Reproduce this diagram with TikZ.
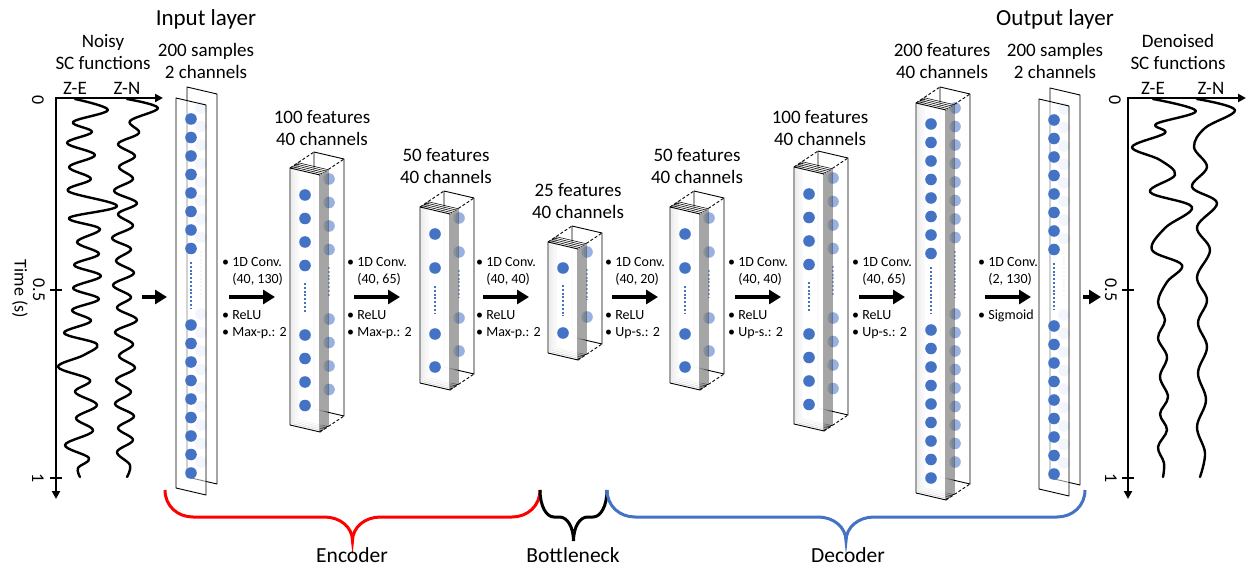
\documentclass[tikz,border=0pt]{standalone}
\usepackage{fontspec}
\setmainfont{Carlito}
\usetikzlibrary{arrows.meta}
\definecolor{dotblue}{HTML}{4472C4}
\definecolor{bracered}{HTML}{FF0000}

% dot positions (from the top of a sheet)
\newcommand{\tallcol}{21,39.5,58,76.5,95,113.5,132,150.5,227,245.5,264,282.5,301,319.5,338,356.5,375}
\newcommand{\midcol}{27,50.5,74,97.5,167,190.5,214,237.5}
\newcommand{\shortcol}{27,61,127,160}
\newcommand{\tinycol}{26,91}

% 2 channels: x, y, height, dots, gap from, gap to
\newcommand{\flatlayer}[6]{
  \begin{scope}[shift={(#1,#2)}]
    \draw[sheet] (11,-11) -- (41,-4) -- (41,#3-4) -- (11,#3-11) -- cycle;
    \foreach \yy in #4 \fill[dotblue!14] (25,\yy-11) circle (5.8pt);
    \draw[dotblue!14, line width=2pt, dash pattern=on 2pt off 1.8pt] (25,#5-11) -- (25,#6-11);
    \draw[sheet, fill opacity=0.5] (0,0) -- (30,7) -- (30,#3+7) -- (0,#3) -- cycle;
    \foreach \yy in #4 \fill[neuron] (15,\yy) circle (5.8pt);
    \draw[gap] (15,#5) -- (15,#6);
  \end{scope}}

% 40 channels: x, y, height, dots, gap from, gap to
\newcommand{\deeplayer}[6]{
  \begin{scope}[shift={(#1,#2)}]
    \draw[sheet] (24,-16) -- (54,-9) -- (54,#3-9) -- (24,#3-16) -- cycle;
    \foreach \yy in #4 \fill[neuron, fill opacity=0.55] (39,\yy-16) circle (5.8pt);
    \draw[gap, opacity=0.5] (39,#5-16) -- (39,#6-16);
    \draw[hidden] (0,0) -- (24,-16) (30,7) -- (54,-9) (30,#3+7) -- (54,#3-9);
    \foreach \kk in {4,3,2,1}
      \draw[sheet, line width=0.55pt, fill opacity=0.35, shift={(2*\kk,-1.33*\kk)}] (0,0) -- (30,7) -- (30,#3+7) -- (0,#3) -- cycle;
    \draw[sheet, fill opacity=0.8] (0,0) -- (30,7) -- (30,#3+7) -- (0,#3) -- cycle;
    \foreach \yy in #4 \fill[neuron] (15,\yy) circle (5.8pt);
    \draw[gap] (15,#5) -- (15,#6);
  \end{scope}}

% x1, x2, curve width, colour
\newcommand{\groupbrace}[4]{
  \pgfmathsetmacro{\xm}{(#1+#2)/2}
  \draw[brace, #4] (#1,490) .. controls (#1,506) and (#1+0.45*#3,517) .. (#1+#3,517)
    -- (\xm-#3,517) .. controls (\xm-0.45*#3,517) and (\xm,527) .. (\xm,541)
    .. controls (\xm,527) and (\xm+0.45*#3,517) .. (\xm+#3,517)
    -- (#2-#3,517) .. controls (#2-0.45*#3,517) and (#2,506) .. (#2,490);}

\tikzset{
  sheet/.style={draw=black, line width=0.9pt, fill=white, line join=round},
  neuron/.style={fill=dotblue},
  gap/.style={draw=dotblue, line width=2pt, dash pattern=on 2pt off 1.8pt},
  hidden/.style={draw=black, line width=0.9pt, dash pattern=on 3pt off 2pt},
  convarrow/.style={line width=3.5pt, -{Triangle[length=12pt,width=14pt]}},
  axis/.style={line width=2pt},
  signal/.style={line width=2.4pt, line join=round, line cap=round},
  brace/.style={line width=3pt},
  title/.style={font=\fontsize{23}{27}\selectfont, inner sep=0pt},
  layerlabel/.style={font=\fontsize{19}{22.5}\selectfont, align=center, inner sep=0pt},
  oplabel/.style={font=\fontsize{14}{17}\selectfont, anchor=base west, inner sep=0pt},
  ticklabel/.style={font=\fontsize{18}{20}\selectfont, rotate=-90, inner sep=0pt},
  bracelabel/.style={font=\fontsize{21.5}{25}\selectfont, inner sep=0pt},
}

\begin{document}
\begin{tikzpicture}[x=1pt, y=-1pt]
  \useasboundingbox (0,0) rectangle (1248,572);

  % noisy input
  \coordinate (lo) at (56,98);
  \coordinate (lx) at (163,98);
  \coordinate (ly) at (56,499);
  \draw[axis, {Triangle[length=8pt,width=8pt]}-{Triangle[length=8pt,width=8pt]}] (lx) -- (lo) -- (ly);
  \draw[axis] (50,290) -- (62,290) (50,478) -- (62,478);
  \node[ticklabel] (lt0) at (38,100) {0};
  \node[ticklabel] (lt1) at (39,290) {0.5};
  \node[ticklabel] (lt2) at (38,478) {1};
  \node[ticklabel] (time) at (20,289) {Time (s)};
  \node[layerlabel] (noisy) at (103,52) {Noisy\\SC functions};
  \node[layerlabel] (ze1) at (75,88) {Z-E};
  \node[layerlabel] (zn1) at (127,88) {Z-N};
  \draw[signal] plot[smooth, tension=0.6] coordinates {(75,99) (108,110) (73,122) (92,132) (67,143) (95,155) (69,167) (91,179) (68,191) (117,206) (69,218) (100,229) (77,242) (99,254) (74,265) (101,276) (73,288) (99,299) (72,310) (91,321) (64,333) (97,344) (84,355) (58,367) (90,380) (75,392) (97,405) (76,418) (93,431) (65,445) (89,458) (78,468) (80,477)};
  \draw[signal] plot[smooth, tension=0.6] coordinates {(127,99) (158,108) (130,121) (139,133) (118,144) (135,156) (119,167) (133,179) (114,191) (137,203) (118,214) (133,226) (112,238) (131,249) (116,261) (134,273) (113,285) (131,297) (117,308) (137,320) (115,332) (133,344) (119,356) (135,368) (116,380) (131,392) (115,404) (134,416) (118,428) (133,440) (117,452) (130,465) (127,477)};

  % denoised output
  \coordinate (ro) at (1128,98);
  \coordinate (rx) at (1246,98);
  \coordinate (ry) at (1128,499);
  \draw[axis, {Triangle[length=8pt,width=8pt]}-{Triangle[length=8pt,width=8pt]}] (rx) -- (ro) -- (ry);
  \draw[axis] (1122,290) -- (1134,290) (1122,478) -- (1134,478);
  \node[ticklabel] (rt0) at (1115,100) {0};
  \node[ticklabel] (rt1) at (1111,290) {0.5};
  \node[ticklabel] (rt2) at (1111,478) {1};
  \node[layerlabel] (denoised) at (1178,52) {Denoised\\SC functions};
  \node[layerlabel] (ze2) at (1153,88) {Z-E};
  \node[layerlabel] (zn2) at (1211,88) {Z-N};
  \draw[signal] plot[smooth, tension=0.6] coordinates {(1153,99) (1196,111) (1156,124) (1165,133) (1132,147) (1160,160) (1175,175) (1150,192) (1192,207) (1165,228) (1152,250) (1182,265) (1167,282) (1158,302) (1165,320) (1158,338) (1167,357) (1160,377) (1168,397) (1160,414) (1167,430) (1158,447) (1164,463) (1163,477)};
  \draw[signal] plot[smooth, tension=0.6] coordinates {(1197,99) (1235,110) (1205,128) (1194,147) (1207,167) (1192,187) (1217,203) (1197,227) (1210,250) (1197,277) (1207,300) (1198,323) (1207,347) (1198,373) (1206,400) (1197,427) (1205,453) (1200,477)};

  % layers
  \flatlayer{176}{98}{390}{\tallcol}{164}{210}
  \deeplayer{290}{168}{257}{\midcol}{115}{144}
  \deeplayer{420}{207}{176}{\shortcol}{79}{106}
  \deeplayer{548}{242}{111}{\tinycol}{43}{74}
  \deeplayer{670}{207}{176}{\shortcol}{79}{106}
  \deeplayer{794}{167}{257}{\midcol}{115}{144}
  \deeplayer{916}{103}{390}{\tallcol}{164}{210}
  \flatlayer{1039}{99}{390}{\tallcol}{164}{210}

  \node[title] (inlayer) at (206,19) {Input layer};
  \node[title] (outlayer) at (1055,19) {Output layer};
  \node[layerlabel] (lab1) at (206,61) {200 samples\\2 channels};
  \node[layerlabel] (lab2) at (322,128) {100 features\\40 channels};
  \node[layerlabel] (lab3) at (446,166) {50 features\\40 channels};
  \node[layerlabel] (lab4) at (578,201) {25 features\\40 channels};
  \node[layerlabel] (lab5) at (697,166) {50 features\\40 channels};
  \node[layerlabel] (lab6) at (820,128) {100 features\\40 channels};
  \node[layerlabel] (lab7) at (942,61) {200 features\\40 channels};
  \node[layerlabel] (lab8) at (1055,61) {200 samples\\2 channels};

  % arrows
  \coordinate (inS) at (142,297);
  \coordinate (inE) at (167,297);
  \draw[convarrow] (inS) -- (inE);
  \foreach \n/\x/\kval/\pool in {1/222/{(40, 130)}/{Max-p.: 2}, 2/347/{(40, 65)}/{Max-p.: 2},
      3/476/{(40, 40)}/{Max-p.: 2}, 4/605/{(40, 20)}/{Up-s.: 2},
      5/728/{(40, 40)}/{Up-s.: 2}, 6/852/{(40, 65)}/{Up-s.: 2}}{
    \coordinate (s\n) at (\x+7,297);
    \coordinate (e\n) at (\x+53,297);
    \draw[convarrow] (s\n) -- (e\n);
    \node[oplabel] (conv\n) at (\x,266.5) {\textbullet\ 1D Conv.};
    \node[oplabel] (kern\n) at (\x,283.5) {\hphantom{\textbullet\ }\kval};
    \node[oplabel] (act\n) at (\x,319.5) {\textbullet\ ReLU};
    \node[oplabel] (pool\n) at (\x,336.5) {\textbullet\ \pool};
  }
  \coordinate (s7) at (985,297);
  \coordinate (e7) at (1031,297);
  \draw[convarrow] (s7) -- (e7);
  \node[oplabel] (conv7) at (978,266.5) {\textbullet\ 1D Conv.};
  \node[oplabel] (kern7) at (978,283.5) {\hphantom{\textbullet\ }(2, 130)};
  \node[oplabel] (act7) at (978,319.5) {\textbullet\ Sigmoid};
  \coordinate (outS) at (1083,297);
  \coordinate (outE) at (1101,297);
  \draw[convarrow] (outS) -- (outE);

  % braces
  \groupbrace{165}{540}{28}{bracered}
  \groupbrace{540}{607}{14}{black}
  \groupbrace{607}{1085}{28}{dotblue}
  \node[bracelabel] (enc) at (352,555) {Encoder};
  \node[bracelabel] (bott) at (573,555) {Bottleneck};
  \node[bracelabel] (dec) at (848,555) {Decoder};
\end{tikzpicture}
\end{document}
